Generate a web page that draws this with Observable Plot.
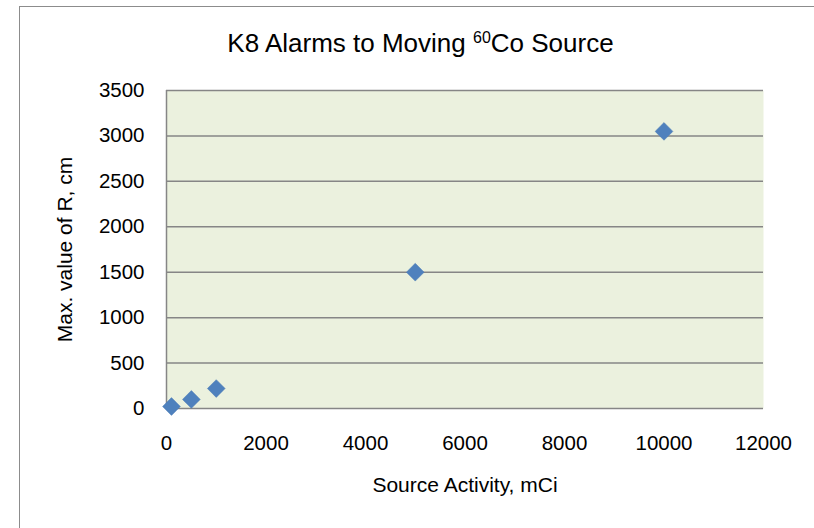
<!DOCTYPE html>
<html>
<head>
<meta charset="utf-8">
<script src="https://cdn.jsdelivr.net/npm/d3@7"></script>
<script src="https://cdn.jsdelivr.net/npm/@observablehq/plot@0.6"></script>
<style>
  html, body { margin: 0; padding: 0; background: #fff; overflow: hidden; }
  #wrap { position: relative; width: 814px; height: 528px; font-family: "Liberation Sans", Arial, sans-serif; }
  #border { position: absolute; left: 19px; top: 6px; width: 900px; height: 600px; border: 1px solid #8c8c8c; box-sizing: border-box; }
  #title { position: absolute; left: 0; width: 841px; top: 28px; text-align: center; font-size: 26px; line-height: 30px; color: #000; white-space: nowrap; }
  #title sup { font-size: 16px; vertical-align: 0; position: relative; top: -9px; }
  #chart { position: absolute; left: 0; top: 0; }
</style>
</head>
<body>
<div id="wrap">
  <div id="border"></div>
  <div id="chart"></div>
  <div id="title">K8 Alarms to Moving <sup>60</sup>Co Source</div>
</div>
<script>
const activity = [100, 500, 1000, 5000, 10000];
const maxR = [22, 100, 220, 1500, 3050];
const xTicks = [0, 2000, 4000, 6000, 8000, 10000, 12000];
const yTicks = [0, 500, 1000, 1500, 2000, 2500, 3000, 3500];
const xTitle = "Source Activity, mCi";
const yTitle = "Max. value of R, cm";

const data = activity.map((a, i) => ({activity: a, r: maxR[i]}));

const chart = Plot.plot({
  width: 814,
  height: 528,
  marginLeft: 166,
  marginRight: 51,
  marginTop: 90,
  marginBottom: 120,
  style: {fontFamily: "'Liberation Sans', Arial, sans-serif", fontSize: "20.5px", color: "#000", background: "transparent", overflow: "visible"},
  x: {domain: [0, 12000], ticks: xTicks, tickSize: 0, tickPadding: 27, label: null, tickFormat: d => String(d)},
  y: {domain: [0, 3500], ticks: yTicks, tickSize: 0, tickPadding: 22, label: null, tickFormat: d => String(d)},
  marks: [
    Plot.frame({fill: "#EBF1DE", stroke: null}),
    Plot.ruleY(yTicks, {stroke: "#868686", strokeWidth: 1.5}),
    Plot.ruleX([0], {stroke: "#868686", strokeWidth: 1.5}),
    Plot.dot(data, {x: "activity", y: "r", symbol: "diamond2", r: 8, fill: "#4F81BD", stroke: "#4A7BB5", strokeWidth: 0.5}),
    Plot.text([xTitle], {frameAnchor: "bottom", lineAnchor: "middle", textAnchor: "middle", dy: 77, fontSize: 21, fill: "#000"}),
    Plot.text([yTitle], {frameAnchor: "left", lineAnchor: "middle", textAnchor: "middle", dx: -101, rotate: -90, fontSize: 21, fill: "#000"})
  ]
});
document.getElementById("chart").appendChild(chart);
</script>
</body>
</html>
